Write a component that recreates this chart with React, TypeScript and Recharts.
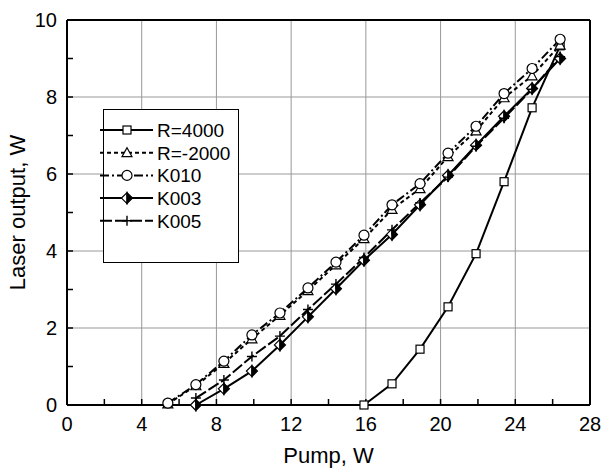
import {
  Legend,
  Line,
  LineChart,
  ReferenceLine,
  XAxis,
  YAxis,
} from 'recharts'

const font = 'Arial, "Liberation Sans", Helvetica, sans-serif'

// pump power, W
const pump = [5.4, 6.9, 8.4, 9.9, 11.4, 12.9, 14.4, 15.9, 17.4, 18.9, 20.4, 21.9, 23.4, 24.9, 26.4]

// laser output, W
const r4000 = [0, 0.55, 1.45, 2.55, 3.93, 5.8, 7.72, 9.33]
const rMinus2000 = [0.03, 0.5, 1.08, 1.72, 2.33, 2.97, 3.64, 4.32, 5.08, 5.62, 6.45, 7.12, 7.98, 8.55, 9.35]
const k010 = [0.05, 0.53, 1.14, 1.82, 2.39, 3.04, 3.71, 4.41, 5.2, 5.75, 6.54, 7.24, 8.09, 8.74, 9.5]
const k003 = [0, 0.42, 0.88, 1.56, 2.29, 3.02, 3.76, 4.43, 5.2, 5.96, 6.75, 7.5, 8.22, 9.0]
const k005 = [0.18, 0.65, 1.26, 1.79, 2.48, 3.14, 3.83, 4.55, 5.25, 5.92, 6.72, 7.45, 8.2, 9.05]

const xTicks = [0, 2, 4, 6, 8, 10, 12, 14, 16, 18, 20, 22, 24, 26, 28]
const yTicks = [0, 1, 2, 3, 4, 5, 6, 7, 8, 9, 10]
const xGrid = [4, 8, 12, 16, 20, 24]
const yGrid = [2, 4, 6, 8]

// values are aligned to the end of the pump list
const toPoints = (ys: number[]) => {
  const start = pump.length - ys.length
  return ys.map((y, i) => ({ x: pump[start + i], y }))
}

type Marker = 'square' | 'triangle' | 'circle' | 'halfDiamond' | 'cross'

const drawMarker = (kind: Marker, cx: number, cy: number, key?: string | number) => {
  const sw = 1.2
  switch (kind) {
    case 'square':
      return <rect key={key} x={cx - 4} y={cy - 4} width={8} height={8} fill="#fff" stroke="#000" strokeWidth={sw} />
    case 'triangle':
      return (
        <path key={key} d={`M${cx},${cy - 5} L${cx + 5},${cy + 4} L${cx - 5},${cy + 4} Z`} fill="#fff" stroke="#000" strokeWidth={sw} />
      )
    case 'circle':
      return <circle key={key} cx={cx} cy={cy} r={5} fill="#fff" stroke="#000" strokeWidth={sw} />
    case 'halfDiamond': {
      const s = 5.5
      return (
        <g key={key}>
          <path d={`M${cx},${cy - s} L${cx - s},${cy} L${cx},${cy + s} Z`} fill="#fff" stroke="#000" strokeWidth={sw} />
          <path d={`M${cx},${cy - s} L${cx + s},${cy} L${cx},${cy + s} Z`} fill="#000" stroke="#000" strokeWidth={sw} />
        </g>
      )
    }
    case 'cross':
      return (
        <path key={key} d={`M${cx - 5},${cy} L${cx + 5},${cy} M${cx},${cy - 5} L${cx},${cy + 5}`} stroke="#000" strokeWidth={1.4} fill="none" />
      )
  }
}

const series: { name: string; values: number[]; dash?: string; marker: Marker }[] = [
  { name: 'R=4000', values: r4000, marker: 'square' },
  { name: 'R=-2000', values: rMinus2000, dash: '4 3', marker: 'triangle' },
  { name: 'K010', values: k010, dash: '9 3 2 3', marker: 'circle' },
  { name: 'K003', values: k003, marker: 'halfDiamond' },
  { name: 'K005', values: k005, dash: '12 3', marker: 'cross' },
]

const LegendBox = () => (
  <svg width={136} height={154} style={{ overflow: 'visible', display: 'block' }}>
    <rect x={0.5} y={0.5} width={135} height={153} fill="#fff" stroke="#000" strokeWidth={1} />
    {series.map((s, i) => {
      const cy = 21 + i * 22.7
      return (
        <g key={s.name}>
          <line x1={-3} x2={50} y1={cy} y2={cy} stroke="#000" strokeWidth={2} strokeDasharray={s.dash} />
          {drawMarker(s.marker, 24, cy)}
          <text x={54} y={cy} dy="0.36em" fontSize={19} fontFamily={font} fill="#000">
            {s.name}
          </text>
        </g>
      )
    })}
  </svg>
)

export default function App() {
  return (
    <div style={{ position: 'absolute', left: 0, top: 0, background: '#fff' }}>
      <LineChart width={603} height={471} margin={{ top: 20, right: 13, bottom: 0, left: 0 }}>
        <XAxis
          type="number"
          dataKey="x"
          domain={[0, 28]}
          ticks={xTicks}
          interval={0}
          tickFormatter={(v: number) => (v % 4 === 0 ? String(v) : '')}
          height={66}
          tickSize={-6}
          tickMargin={18}
          axisLine={{ stroke: '#000', strokeWidth: 2 }}
          tickLine={{ stroke: '#000', strokeWidth: 1.5 }}
          tick={{ fill: '#000', fontSize: 20, fontFamily: font }}
          label={{ value: 'Pump, W', position: 'insideBottom', offset: 8, fill: '#000', fontSize: 22, fontFamily: font }}
        />
        <YAxis
          type="number"
          domain={[0, 10]}
          ticks={yTicks}
          interval={0}
          tickFormatter={(v: number) => (v % 2 === 0 ? String(v) : '')}
          width={67}
          tickSize={-6}
          tickMargin={16}
          axisLine={{ stroke: '#000', strokeWidth: 2 }}
          tickLine={{ stroke: '#000', strokeWidth: 1.5 }}
          tick={{ fill: '#000', fontSize: 20, fontFamily: font }}
          label={{
            value: 'Laser output, W',
            angle: -90,
            position: 'insideLeft',
            offset: 17,
            fill: '#000',
            fontSize: 22,
            fontFamily: font,
            style: { textAnchor: 'middle' },
          }}
        />
        {xGrid.map((v) => (
          <ReferenceLine key={`gx${v}`} x={v} stroke="#999" strokeWidth={1} />
        ))}
        {yGrid.map((v) => (
          <ReferenceLine key={`gy${v}`} y={v} stroke="#999" strokeWidth={1} />
        ))}
        <ReferenceLine x={28} stroke="#000" strokeWidth={2} />
        <ReferenceLine y={10} stroke="#000" strokeWidth={2} />
        {series.map((s) => (
          <Line
            key={s.name}
            name={s.name}
            data={toPoints(s.values)}
            dataKey="y"
            stroke="#000"
            strokeWidth={2}
            strokeDasharray={s.dash}
            isAnimationActive={false}
            dot={(p: any) => drawMarker(s.marker, p.cx, p.cy, `${s.name}-${p.index}`)}
            activeDot={false}
          />
        ))}
        <Legend
          layout="vertical"
          align="center"
          verticalAlign="middle"
          content={() => <LegendBox />}
          wrapperStyle={{ position: 'absolute', left: 103, top: 109, width: 136, height: 154 }}
        />
      </LineChart>
    </div>
  )
}
